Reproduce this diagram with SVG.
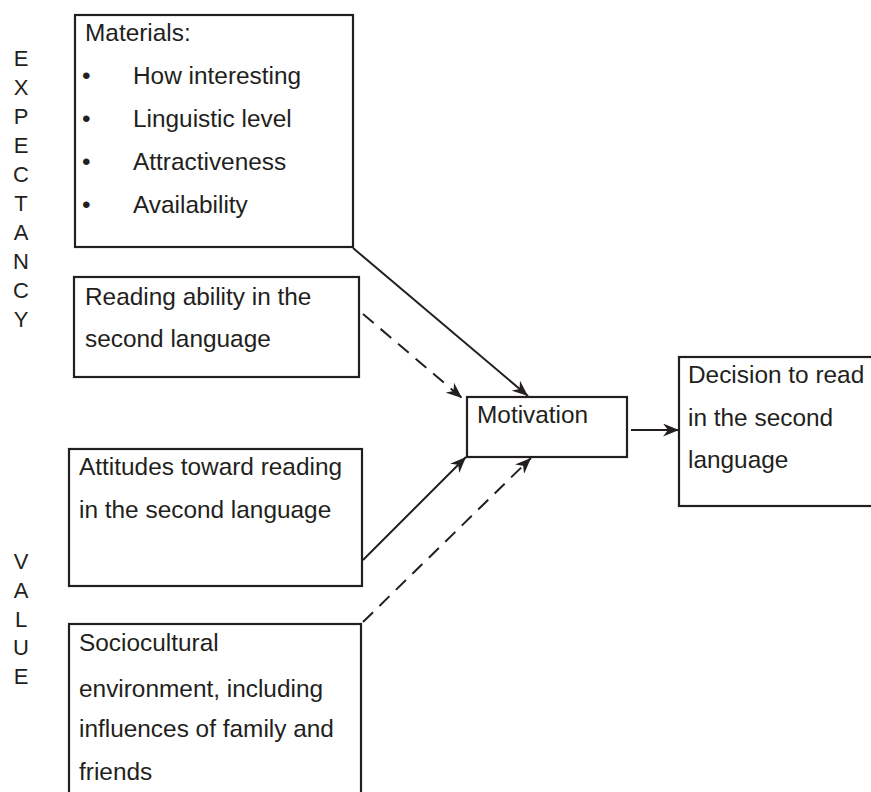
<svg xmlns="http://www.w3.org/2000/svg" width="871" height="792" viewBox="0 0 871 792">
<style>
text{font-family:"Liberation Sans",Arial,sans-serif;font-size:24.4px;fill:#231f20}
.side{font-size:22px;text-anchor:middle}
.box{fill:#fff;stroke:#231f20;stroke-width:2.2}
.c{fill:none;stroke:#231f20;stroke-width:2}
.d{stroke-dasharray:14 9}
</style>
<defs>
<marker id="ah" markerUnits="userSpaceOnUse" markerWidth="17" markerHeight="13" refX="16" refY="6.5" orient="auto">
<path d="M0,0 L16,6.5 L0,13 L5,6.5 z" fill="#231f20"/>
</marker>
</defs>
<rect width="871" height="792" fill="#fff"/>
<g id="expectancy-label">
<text class="side" x="21" y="66">E</text>
<text class="side" x="21" y="95">X</text>
<text class="side" x="21" y="124">P</text>
<text class="side" x="21" y="153">E</text>
<text class="side" x="21" y="182">C</text>
<text class="side" x="21" y="211">T</text>
<text class="side" x="21" y="240">A</text>
<text class="side" x="21" y="269">N</text>
<text class="side" x="21" y="298">C</text>
<text class="side" x="21" y="327">Y</text>
</g>
<g id="value-label">
<text class="side" x="21" y="569">V</text>
<text class="side" x="21" y="598">A</text>
<text class="side" x="21" y="627">L</text>
<text class="side" x="21" y="655">U</text>
<text class="side" x="21" y="684">E</text>
</g>
<g id="connectors">
<line class="c" x1="353" y1="248" x2="528" y2="396" marker-end="url(#ah)"/>
<line class="c d" x1="363" y1="314" x2="462" y2="398" marker-end="url(#ah)"/>
<line class="c" x1="363" y1="560" x2="466" y2="457" marker-end="url(#ah)"/>
<line class="c d" x1="363" y1="622" x2="531" y2="458" marker-end="url(#ah)"/>
<line class="c" x1="631" y1="430" x2="679" y2="430" marker-end="url(#ah)"/>
</g>
<g id="materials">
<rect class="box" x="75" y="15" width="278" height="232"/>
<text x="85" y="41">Materials:</text>
<text x="82" y="84">•</text><text x="133" y="84">How interesting</text>
<text x="82" y="127">•</text><text x="133" y="127">Linguistic level</text>
<text x="82" y="170">•</text><text x="133" y="170">Attractiveness</text>
<text x="82" y="213">•</text><text x="133" y="213">Availability</text>
</g>
<g id="reading-ability">
<rect class="box" x="74" y="277" width="285" height="100"/>
<text x="85" y="305">Reading ability in the</text>
<text x="85" y="347">second language</text>
</g>
<g id="attitudes">
<rect class="box" x="69" y="449" width="293" height="137"/>
<text x="79" y="475">Attitudes toward reading</text>
<text x="79" y="518">in the second language</text>
</g>
<g id="sociocultural">
<rect class="box" x="69" y="624" width="292" height="180"/>
<text x="79" y="651">Sociocultural</text>
<text x="79" y="697">environment, including</text>
<text x="79" y="737">influences of family and</text>
<text x="79" y="780">friends</text>
</g>
<g id="motivation">
<rect class="box" x="467" y="397" width="160" height="60"/>
<text x="477" y="423">Motivation</text>
</g>
<g id="decision">
<rect class="box" x="679" y="357" width="200" height="149"/>
<text x="688" y="383">Decision to read</text>
<text x="688" y="426">in the second</text>
<text x="688" y="468">language</text>
</g>
</svg>
